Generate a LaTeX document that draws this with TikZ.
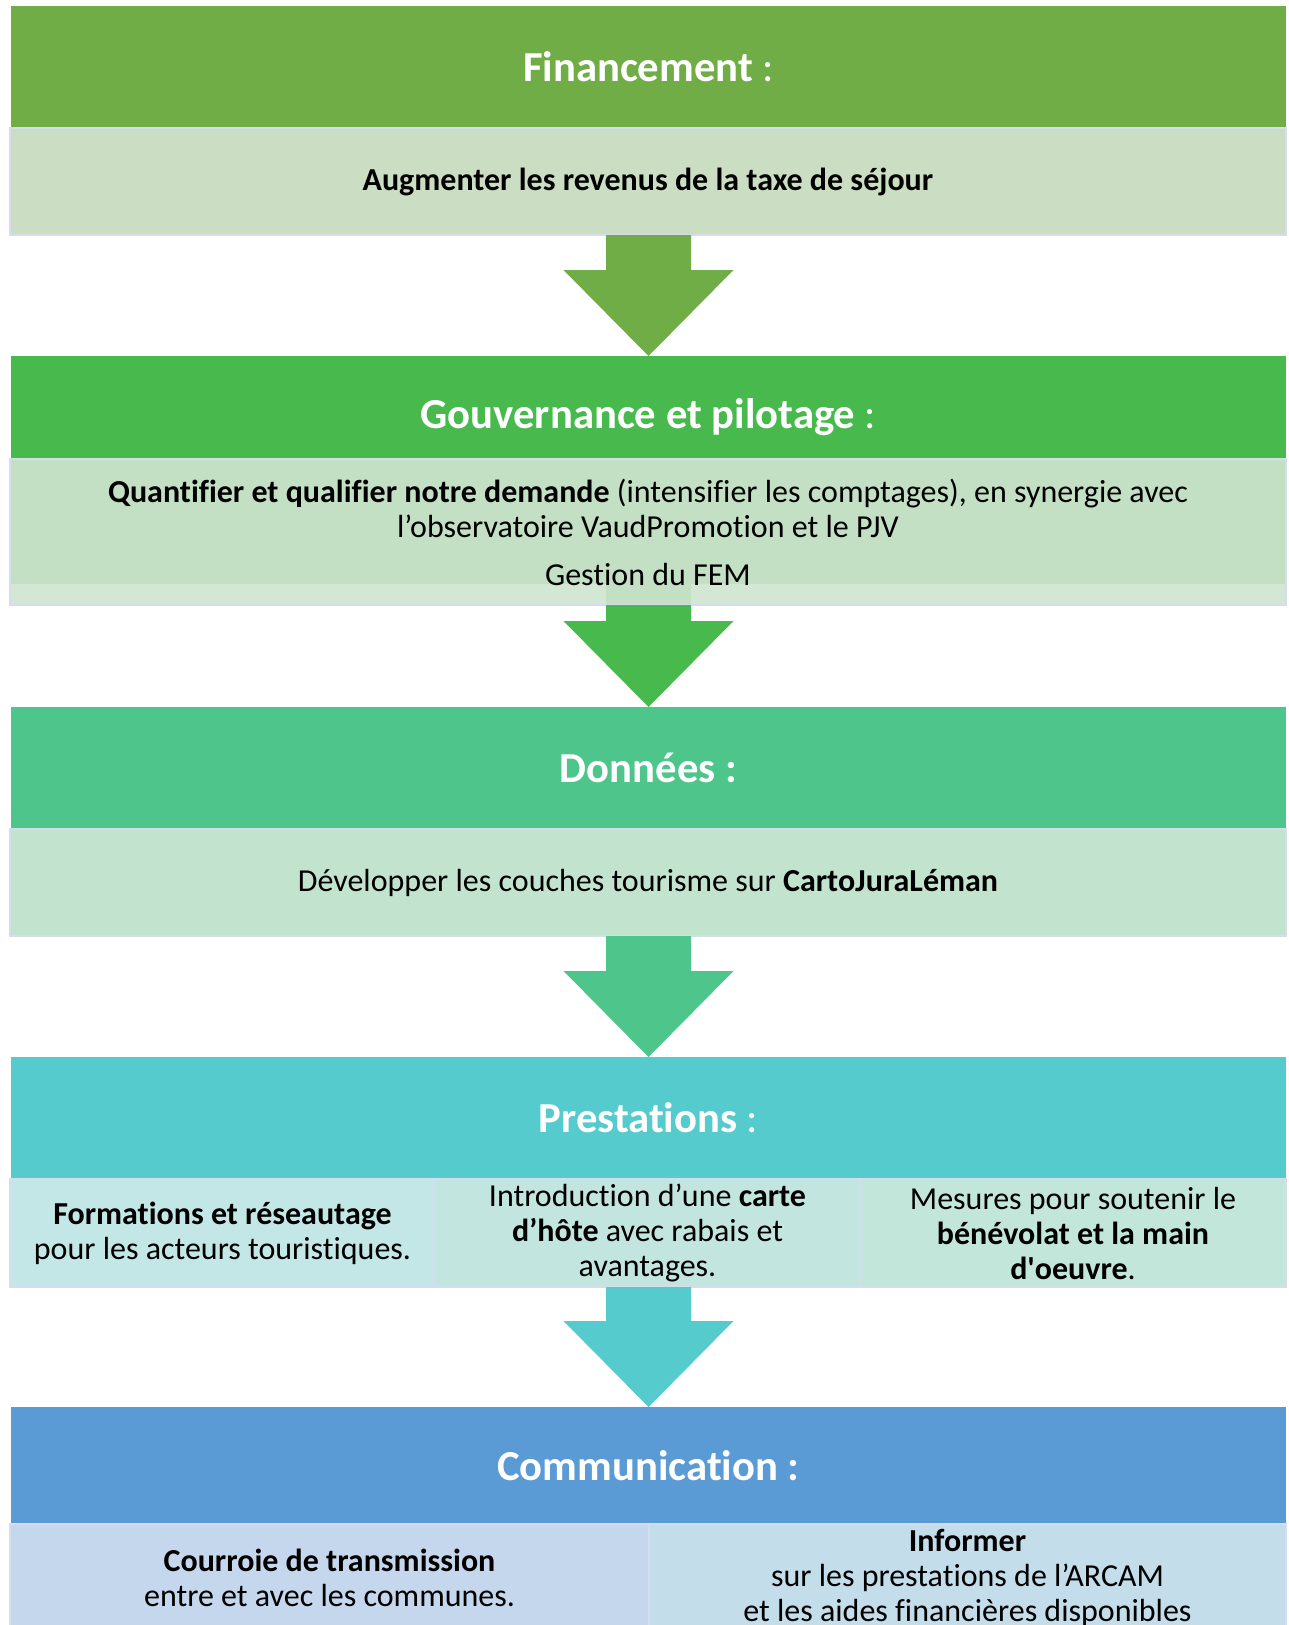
\documentclass[tikz,border=0pt]{standalone}
\usepackage{fontspec}
\setmainfont{Carlito}[Ligatures=NoCommon]
\usetikzlibrary{calc}
\definecolor{cA}{HTML}{70AD47}
\definecolor{cAl}{HTML}{CBDDC3}
\definecolor{cB}{HTML}{48BA4D}
\definecolor{cBl}{HTML}{C4E0C4}
\definecolor{cBb}{HTML}{D4E7D4}
\definecolor{cC}{HTML}{4EC58B}
\definecolor{cCl}{HTML}{C2E4CF}
\definecolor{cD}{HTML}{55CBCD}
\definecolor{cDa}{HTML}{C3E6E6}
\definecolor{cDb}{HTML}{C3E5E0}
\definecolor{cDc}{HTML}{C3E6DA}
\definecolor{cE}{HTML}{5B9BD5}
\definecolor{cEa}{HTML}{C4D7EC}
\definecolor{cEb}{HTML}{C4DDEA}
\definecolor{bordc}{HTML}{D3DDEE}
\newcommand{\blockarrow}[3]{%
  \fill[#3] let \p1=(#1.south), \p2=(#2.north) in
    (\x2-42.5pt,\y1) -- (\x2+42.5pt,\y1) -- (\x2+42.5pt,\y2+86pt) -- (\x2+85pt,\y2+86pt)
    -- (\x2,\y2) -- (\x2-85pt,\y2+86pt) -- (\x2-42.5pt,\y2+86pt) -- cycle;}
\begin{document}
\begin{tikzpicture}[x=1pt,y=-1pt,
  hdr/.style={draw=none, minimum width=1275pt, anchor=north west, inner sep=0pt, outer sep=0pt,
    text=white, font=\fontsize{42.7}{50}\selectfont},
  subbox/.style={draw=bordc, line width=1.5pt, anchor=north west, inner sep=0pt, outer sep=0pt,
    font=\fontsize{32}{35}\selectfont, align=center},
  txt/.style={font=\fontsize{32}{35}\selectfont, align=center, inner sep=0pt}]
\useasboundingbox (0,0) rectangle (1288,1625);
\clip (0,0) rectangle (1288,1625);
\fill[white] (0,0) rectangle (1288,1625);

% Financement
\node[hdr, fill=cA, minimum height=122pt] (h1) at (11,6) {\textbf{Financement} :};
\node[subbox, fill=cAl, minimum width=1276pt, minimum height=107pt] (s1) at (10,128)
  {\textbf{Augmenter les revenus de la taxe de séjour}};

% Gouvernance
\node[hdr, fill=cB, minimum height=122pt] (h2) at (11,356) {\textbf{Gouvernance et pilotage} :};
\blockarrow{s1}{h2}{cA}
\node[subbox, fill=cBl, minimum width=1276pt, minimum height=146pt] (s2) at (10,459) {};
\fill[cBb] (11,584) rectangle (1285,604);
\fill[cBl] (605.5,584) rectangle (690.5,604);
\node[txt] (t2) at (648,532)
  {\textbf{Quantifier et qualifier notre demande} (intensifier les comptages), en synergie avec\\
   l’observatoire VaudPromotion et le PJV\\[13pt]
   Gestion du FEM};

% Données
\node[hdr, fill=cC, minimum height=122pt] (h3) at (11,707) {\textbf{Données :}};
\blockarrow{s2}{h3}{cB}
\node[subbox, fill=cCl, minimum width=1276pt, minimum height=107pt] (s3) at (10,829)
  {Développer les couches tourisme sur \textbf{CartoJuraLéman}};

% Prestations
\node[hdr, fill=cD, minimum height=122pt] (h4) at (11,1057) {\textbf{Prestations} :};
\blockarrow{s3}{h4}{cC}
\node[subbox, fill=cDa, minimum width=425pt, minimum height=108pt] (p1) at (10,1179)
  {\textbf{Formations et réseautage}\\pour les acteurs touristiques.};
\node[subbox, fill=cDb, minimum width=425pt, minimum height=108pt] (p2) at (435,1179)
  {Introduction d’une \textbf{carte}\\\textbf{d’hôte} avec rabais et\\avantages.};
\node[subbox, fill=cDc, minimum width=426pt, minimum height=108pt] (p3) at (860,1179)
  {Mesures pour soutenir le\\\textbf{bénévolat et la main}\\\textbf{d\textquotesingle oeuvre}.};

% Communication
\node[hdr, fill=cE, minimum height=117pt] (h5) at (11,1407) {\textbf{Communication :}};
\blockarrow{p2}{h5}{cD}
\node[subbox, fill=cEa, minimum width=639pt, minimum height=108pt] (c1) at (10,1524)
  {\textbf{Courroie de transmission}\\entre et avec les communes.};
\node[subbox, fill=cEb, minimum width=637pt, minimum height=108pt] (c2) at (649,1524)
  {\textbf{Informer}\\sur les prestations de l’ARCAM\\et les aides financières disponibles};
\end{tikzpicture}
\end{document}
